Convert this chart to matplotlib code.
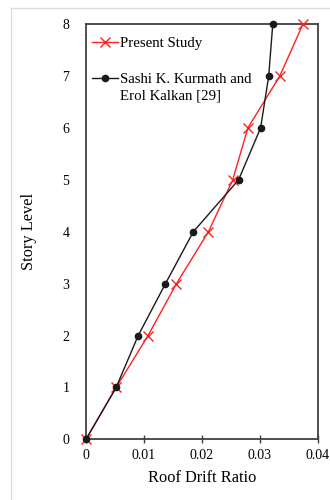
import matplotlib
matplotlib.use("Agg")
import matplotlib.pyplot as plt
from matplotlib.lines import Line2D

# Roof drift ratio per story level
story_levels = [0, 1, 2, 3, 4, 5, 6, 7, 8]
present_study = [0.0, 0.0052, 0.0107, 0.0156, 0.0211, 0.0253, 0.0279, 0.0334, 0.0374]
kurmath_kalkan = [0.0, 0.0052, 0.0090, 0.0137, 0.0185, 0.0263, 0.0301, 0.0315, 0.0322]

x_ticks = [0, 0.01, 0.02, 0.03, 0.04]
x_tick_labels = ["0", "0.01", "0.02", "0.03", "0.04"]
y_ticks = [0, 1, 2, 3, 4, 5, 6, 7, 8]

plt.rcParams["font.family"] = ["Liberation Serif", "DejaVu Serif"]

fig = plt.figure(figsize=(3.3, 5.0), dpi=100)
ax = fig.add_axes([0.2606, 0.1214, 0.7030, 0.8300])

# thin light-grey page border on left and top
fig.add_artist(Line2D([0.032, 0.032], [0.0, 0.984], transform=fig.transFigure,
                      color="#dddddd", lw=1.0))
fig.add_artist(Line2D([0.032, 1.0], [0.984, 0.984], transform=fig.transFigure,
                      color="#dddddd", lw=1.0))

ax.plot(present_study, story_levels, color="#ff2020", lw=1.0, marker="x",
        markersize=7, markeredgewidth=1.0, label="Present Study", zorder=3,
        clip_on=False)
ax.plot(kurmath_kalkan, story_levels, color="#1a1a1a", lw=1.0, marker="o",
        markersize=4.5, label="Sashi K. Kurmath and",
        zorder=4, clip_on=False)

ax.set_xlim(0, 0.04)
ax.set_ylim(0, 8)
ax.set_xticks(x_ticks)
ax.set_xticklabels(x_tick_labels)
ax.set_yticks(y_ticks)

for side in ["left", "right", "top", "bottom"]:
    ax.spines[side].set_color("#404040")
    ax.spines[side].set_linewidth(1.3)

ax.tick_params(axis="x", direction="inout", length=6, width=1.0,
               color="#404040", labelsize=10, pad=4)
ax.tick_params(axis="y", length=0, labelsize=10, pad=12)

ax.set_xlabel("Roof Drift Ratio", fontsize=11.8, labelpad=6)
ax.set_ylabel("Story Level", fontsize=11.8, labelpad=18)

leg = ax.legend(loc="upper left", frameon=False, fontsize=10.7,
                handlelength=1.75, handletextpad=0.12, labelspacing=1.55,
                borderaxespad=0.0, bbox_to_anchor=(0.0, 0.985))

# second line of the reference entry, set under the legend text
fig.canvas.draw()
bb = leg.get_texts()[1].get_window_extent().transformed(ax.transAxes.inverted())
ax.text(bb.x0, bb.y0 - 0.008, "Erol Kalkan [29]", transform=ax.transAxes,
        ha="left", va="top", fontsize=10.7, zorder=6)

fig.savefig("out.png", dpi=100)
